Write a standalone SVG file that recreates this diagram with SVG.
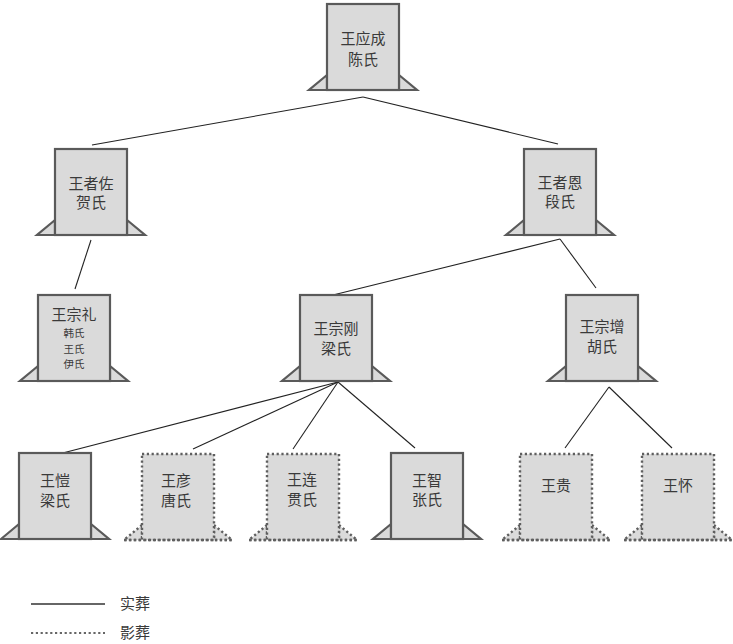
<svg xmlns="http://www.w3.org/2000/svg" width="733" height="644" viewBox="0 0 733 644">
<style>
  .stone { fill: #dadada; stroke: #5a5a5a; stroke-width: 2.2; stroke-linejoin: miter; }
  .shadow { fill: #dadada; stroke: #5f5f5f; stroke-width: 2.4; stroke-dasharray: 2.2 2.6; }
  .t { font-family: "Noto Sans CJK SC", "Noto Sans", sans-serif; font-size: 15px; fill: #3a3a3a; text-anchor: middle; }
  .s { font-size: 10.5px; }
  .edge { stroke: #222; stroke-width: 1.1; fill: none; }
  .lg { font-family: "Noto Sans CJK SC", "Noto Sans", sans-serif; font-size: 15px; fill: #3a3a3a; }
</style>
<defs>
  <g id="solidStone">
    <path class="stone" d="M0,71 L-18,86 L0,86 Z M72,71 L90,86 L72,86 Z"/>
    <rect class="stone" x="0" y="0" width="72" height="86"/>
    <line class="stone" x1="-18" y1="86" x2="90" y2="86"/>
  </g>
  <g id="shadowStone">
    <path class="shadow" d="M0,71 L-18,86 L0,86 Z M72,71 L90,86 L72,86 Z"/>
    <rect class="shadow" x="0" y="0" width="72" height="86"/>
    <line class="shadow" x1="-18" y1="86" x2="90" y2="86"/>
  </g>
</defs>

<g id="connectors">
  <line class="edge" x1="363" y1="97" x2="92" y2="145"/>
  <line class="edge" x1="363" y1="97" x2="558" y2="144"/>
  <line class="edge" x1="91" y1="240" x2="75" y2="289"/>
  <line class="edge" x1="560" y1="239" x2="333" y2="295"/>
  <line class="edge" x1="560" y1="239" x2="596" y2="288"/>
  <line class="edge" x1="338" y1="382" x2="55" y2="455"/>
  <line class="edge" x1="338" y1="382" x2="193" y2="449"/>
  <line class="edge" x1="338" y1="382" x2="293" y2="449"/>
  <line class="edge" x1="338" y1="382" x2="415" y2="448"/>
  <line class="edge" x1="609" y1="387" x2="565" y2="448"/>
  <line class="edge" x1="609" y1="387" x2="672" y2="448"/>
</g>

<g id="n1" transform="translate(327,4)">
  <use href="#solidStone"/>
  <text class="t" x="36" y="40">王应成</text>
  <text class="t" x="36" y="61">陈氏</text>
</g>
<g id="n2" transform="translate(55,149)">
  <use href="#solidStone"/>
  <text class="t" x="36" y="40">王者佐</text>
  <text class="t" x="36" y="59">贺氏</text>
</g>
<g id="n3" transform="translate(524,149)">
  <use href="#solidStone"/>
  <text class="t" x="36" y="39">王者恩</text>
  <text class="t" x="36" y="58">段氏</text>
</g>
<g id="n4" transform="translate(38,295)">
  <use href="#solidStone"/>
  <text class="t" x="36" y="25">王宗礼</text>
  <text class="t s" x="36" y="42">韩氏</text>
  <text class="t s" x="36" y="57.5">王氏</text>
  <text class="t s" x="36" y="73">伊氏</text>
</g>
<g id="n5" transform="translate(300,295)">
  <use href="#solidStone"/>
  <text class="t" x="36" y="39">王宗刚</text>
  <text class="t" x="36" y="59">梁氏</text>
</g>
<g id="n6" transform="translate(566,295)">
  <use href="#solidStone"/>
  <text class="t" x="36" y="37">王宗增</text>
  <text class="t" x="36" y="57">胡氏</text>
</g>
<g id="n7" transform="translate(19,453)">
  <use href="#solidStone"/>
  <text class="t" x="36" y="33">王愷</text>
  <text class="t" x="36" y="53">梁氏</text>
</g>
<g id="n8" transform="translate(142,454)">
  <use href="#shadowStone"/>
  <text class="t" x="34" y="32">王彦</text>
  <text class="t" x="34" y="52">唐氏</text>
</g>
<g id="n9" transform="translate(267,454)">
  <use href="#shadowStone"/>
  <text class="t" x="35" y="31">王连</text>
  <text class="t" x="35" y="51">贯氏</text>
</g>
<g id="n10" transform="translate(391,453)">
  <use href="#solidStone"/>
  <text class="t" x="36" y="33">王智</text>
  <text class="t" x="36" y="52">张氏</text>
</g>
<g id="n11" transform="translate(520,454)">
  <use href="#shadowStone"/>
  <text class="t" x="36" y="37">王贵</text>
</g>
<g id="n12" transform="translate(642,454)">
  <use href="#shadowStone"/>
  <text class="t" x="36" y="37">王怀</text>
</g>

<g id="legend">
  <line x1="31" y1="604" x2="105" y2="604" stroke="#666" stroke-width="2"/>
  <text class="lg" x="120" y="609">实葬</text>
  <line x1="31" y1="633" x2="105" y2="633" stroke="#666" stroke-width="2.2" stroke-dasharray="2.2 2.6"/>
  <text class="lg" x="120" y="638">影葬</text>
</g>
</svg>
